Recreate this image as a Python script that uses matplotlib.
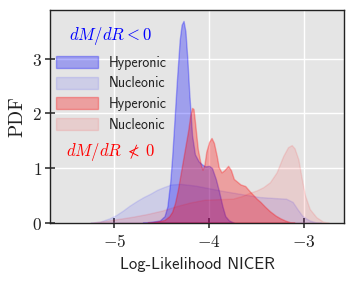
import numpy as np
import matplotlib
matplotlib.use("Agg")
import matplotlib.pyplot as plt
from matplotlib.patches import Patch

# ---- data (x: log-likelihood, y: PDF) ----
hyp_neg_x = [-4.70, -4.60, -4.52, -4.47, -4.44, -4.41, -4.39, -4.37, -4.34, -4.31, -4.29, -4.27,
             -4.25, -4.23, -4.21, -4.18, -4.15, -4.11, -4.07, -4.04, -4.00, -3.97, -3.93, -3.90,
             -3.86, -3.83, -3.79, -3.74]
hyp_neg_y = [0.00, 0.02, 0.04, 0.12, 0.30, 0.75, 1.20, 1.75, 2.60, 3.35, 3.62, 3.69,
             3.50, 3.00, 2.38, 1.60, 1.25, 1.12, 1.06, 1.03, 1.04, 1.00, 0.80, 0.60,
             0.30, 0.12, 0.04, 0.00]

nuc_neg_x = [-5.25, -5.15, -5.05, -4.98, -4.91, -4.84, -4.76, -4.69, -4.62, -4.55, -4.48, -4.40,
             -4.30, -4.15, -4.00, -3.85, -3.68, -3.47, -3.30, -3.19, -3.12, -3.07, -3.02, -2.98,
             -2.94, -2.88, -2.82]
nuc_neg_y = [0.00, 0.02, 0.08, 0.14, 0.22, 0.31, 0.40, 0.47, 0.53, 0.60, 0.65, 0.70,
             0.71, 0.68, 0.63, 0.58, 0.53, 0.47, 0.45, 0.44, 0.38, 0.25, 0.13, 0.08,
             0.04, 0.01, 0.00]

hyp_pos_x = [-4.65, -4.55, -4.47, -4.42, -4.39, -4.36, -4.33, -4.31, -4.28, -4.25, -4.22, -4.20,
             -4.18, -4.165, -4.15, -4.12, -4.09, -4.07, -4.05, -4.03, -4.00, -3.975, -3.95, -3.92,
             -3.90, -3.87, -3.84, -3.80, -3.77, -3.74, -3.67, -3.62, -3.57, -3.50, -3.46, -3.41,
             -3.36, -3.30, -3.25, -3.20, -3.15, -3.10]
hyp_pos_y = [0.00, 0.02, 0.05, 0.12, 0.20, 0.36, 0.60, 0.80, 1.10, 1.40, 1.70, 1.95,
             2.10, 2.08, 1.85, 1.35, 1.08, 0.97, 1.06, 1.30, 1.48, 1.55, 1.46, 1.22,
             1.02, 0.92, 0.96, 1.04, 0.96, 0.80, 0.70, 0.67, 0.57, 0.44, 0.38, 0.29,
             0.21, 0.13, 0.08, 0.04, 0.01, 0.00]

nuc_pos_x = [-5.25, -5.10, -4.95, -4.80, -4.65, -4.50, -4.35, -4.20, -4.05, -3.90, -3.75, -3.65,
             -3.57, -3.50, -3.43, -3.36, -3.29, -3.22, -3.17, -3.13, -3.10, -3.06, -3.03, -2.99,
             -2.94, -2.87, -2.80, -2.74]
nuc_pos_y = [0.00, 0.03, 0.07, 0.11, 0.16, 0.22, 0.30, 0.37, 0.42, 0.43, 0.44, 0.49,
             0.55, 0.59, 0.65, 0.74, 0.92, 1.22, 1.38, 1.42, 1.36, 1.16, 0.86, 0.50,
             0.25, 0.10, 0.02, 0.00]

labels = ["Hyperonic", "Nucleonic", "Hyperonic", "Nucleonic"]
xticks = [-5, -4, -3]
yticks = [0, 1, 2, 3]

# ---- style ----
plt.rcParams['mathtext.fontset'] = 'cm'

fig = plt.figure(figsize=(3.55, 2.84), dpi=100)
ax = fig.add_axes([50/355, 1 - 222.7/284, 294.3/355, 212.7/284])
ax.set_facecolor('#E5E5E5')
ax.set_axisbelow(True)
ax.grid(True, color='white', lw=1.0)

series = [
    (hyp_neg_x, hyp_neg_y, 'blue', 0.3),
    (nuc_neg_x, nuc_neg_y, 'blue', 0.1),
    (hyp_pos_x, hyp_pos_y, 'red', 0.3),
    (nuc_pos_x, nuc_pos_y, 'red', 0.1),
]
handles = []
for (x, y, c, a), lab in zip(series, labels):
    ax.fill_between(x, y, 0, facecolor=c, edgecolor=c, alpha=a, lw=1.0)
    handles.append(Patch(facecolor=c, edgecolor=c, alpha=a, lw=1.0, label=lab))

ax.set_xlim(-5.677, -2.576)
ax.set_ylim(0, 3.89)
ax.set_xticks(xticks)
ax.set_xticklabels([f"${v}$" for v in xticks])
ax.set_yticks(yticks)
ax.set_yticklabels([f"${v}$" for v in yticks])
for s in ax.spines.values():
    s.set_color('#222222')
    s.set_linewidth(1.0)
ax.tick_params(direction='inout', length=7.2, width=1.2, color='#333333',
               labelsize=12.5, labelcolor='#222222')
ax.tick_params(axis='x', pad=4)
ax.tick_params(axis='y', pad=2)

ax.set_xlabel("Log-Likelihood NICER", family='cmss10', fontsize=12, color='#222222', labelpad=4)
ax.set_ylabel("PDF", family='cmr10', fontsize=14, color='#222222', labelpad=4)

leg = ax.legend(handles=handles, loc='upper left', bbox_to_anchor=(0.02, 0.785),
                frameon=False, prop={'family': 'cmss10', 'size': 10},
                handlelength=3.0, handleheight=0.95, handletextpad=0.8,
                labelspacing=0.48, borderpad=0, borderaxespad=0)
for t in leg.get_texts():
    t.set_color('#222222')

ax.text(0.207, 0.878, r"$dM/dR<0$", transform=ax.transAxes, color='blue',
        fontsize=12, ha='center', va='center')
ax.text(0.207, 0.332, r"$dM/dR\;\nless\;0$", transform=ax.transAxes, color='red',
        fontsize=12, ha='center', va='center')

fig.savefig("out.png", dpi=100)
